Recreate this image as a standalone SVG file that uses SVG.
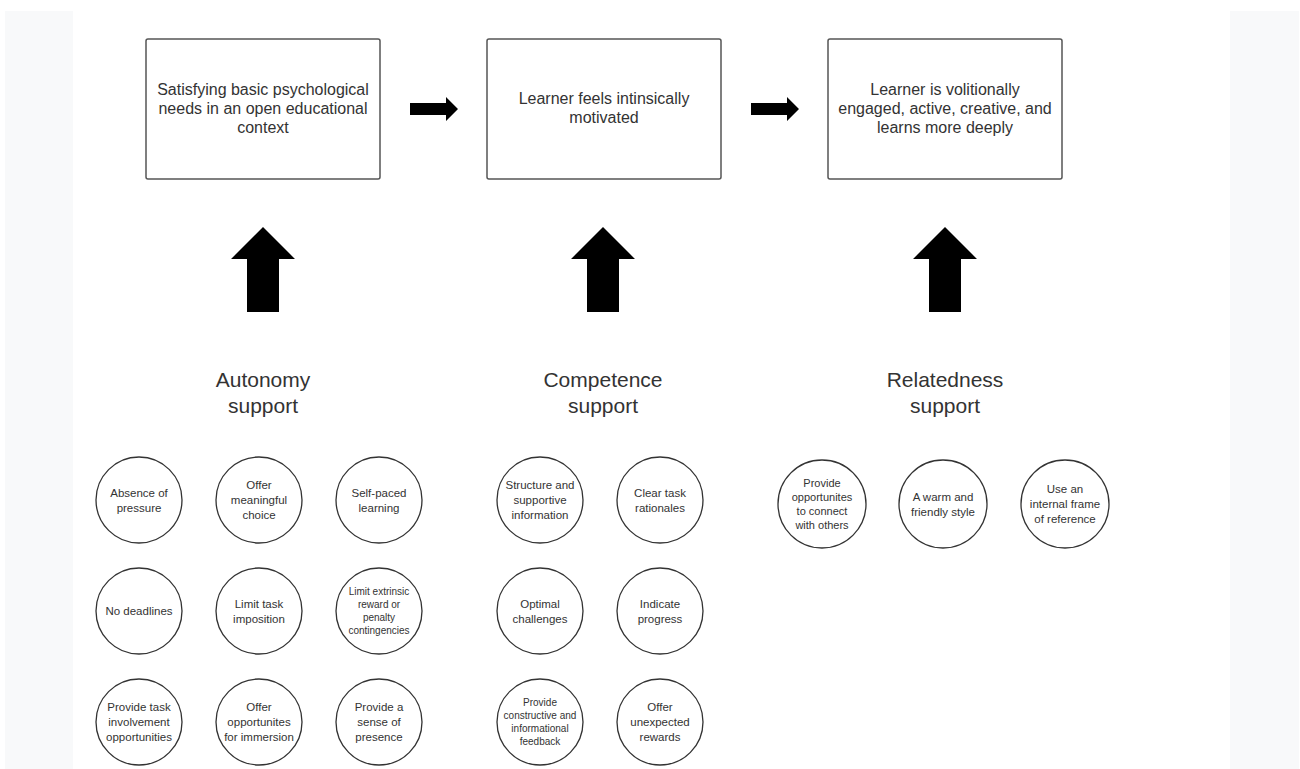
<svg xmlns="http://www.w3.org/2000/svg" width="1300" height="769" viewBox="0 0 1300 769">
<style>
.box{fill:#fff;stroke:#555;stroke-width:1.5}
.c{fill:#fff;stroke:#333;stroke-width:1.3}
.t{font-family:"Liberation Sans",Arial,sans-serif;fill:#333;text-anchor:middle}
.bt{font-size:16px}
.lt{font-size:21px}
.ct{font-size:11.5px}
.cs{font-size:10px}
.cm{font-size:11px}
.ar{fill:#000}
</style>
<rect x="0" y="0" width="1300" height="769" fill="#fff"/>
<rect x="5" y="11" width="68" height="758" fill="#f8f9fa"/>
<rect x="1230" y="11" width="69" height="758" fill="#f8f9fa"/>

<g id="box1"><rect class="box" x="146" y="39" width="234" height="140" rx="2"/>
<text class="t bt"><tspan x="263" y="95">Satisfying basic psychological</tspan><tspan x="263" y="114">needs in an open educational</tspan><tspan x="263" y="133">context</tspan></text></g>
<g id="box2"><rect class="box" x="487" y="39" width="234" height="140" rx="2"/>
<text class="t bt"><tspan x="604" y="104">Learner feels intinsically</tspan><tspan x="604" y="123">motivated</tspan></text></g>
<g id="box3"><rect class="box" x="828" y="39" width="234" height="140" rx="2"/>
<text class="t bt"><tspan x="945" y="95">Learner is volitionally</tspan><tspan x="945" y="114">engaged, active, creative, and</tspan><tspan x="945" y="133">learns more deeply</tspan></text></g>

<g id="connectors">
<path class="ar" d="M410 103 H446 V97 L458 109 L446 121 V115 H410 Z"/>
<path class="ar" d="M751 103 H787 V97 L799 109 L787 121 V115 H751 Z"/>
<path class="ar" d="M263 227 L295 259 H279 V312 H247 V259 H231 Z"/>
<path class="ar" d="M603 227 L635 259 H619 V312 H587 V259 H571 Z"/>
<path class="ar" d="M945 227 L977 259 H961 V312 H929 V259 H913 Z"/>
</g>

<g id="label-autonomy"><text class="t lt"><tspan x="263" y="387">Autonomy</tspan><tspan x="263" y="413">support</tspan></text></g>
<g id="label-competence"><text class="t lt"><tspan x="603" y="387">Competence</tspan><tspan x="603" y="413">support</tspan></text></g>
<g id="label-relatedness"><text class="t lt"><tspan x="945" y="387">Relatedness</tspan><tspan x="945" y="413">support</tspan></text></g>

<g id="a1"><circle class="c" cx="139" cy="500" r="43"/><text class="t ct"><tspan x="139" y="497">Absence of</tspan><tspan x="139" y="512">pressure</tspan></text></g>
<g id="a2"><circle class="c" cx="259" cy="500" r="43"/><text class="t ct"><tspan x="259" y="489">Offer</tspan><tspan x="259" y="504">meaningful</tspan><tspan x="259" y="519">choice</tspan></text></g>
<g id="a3"><circle class="c" cx="379" cy="500" r="43"/><text class="t ct"><tspan x="379" y="497">Self-paced</tspan><tspan x="379" y="512">learning</tspan></text></g>
<g id="a4"><circle class="c" cx="139" cy="611" r="43"/><text class="t ct"><tspan x="139" y="615">No deadlines</tspan></text></g>
<g id="a5"><circle class="c" cx="259" cy="611" r="43"/><text class="t ct"><tspan x="259" y="608">Limit task</tspan><tspan x="259" y="623">imposition</tspan></text></g>
<g id="a6"><circle class="c" cx="379" cy="611" r="43"/><text class="t cs"><tspan x="379" y="595">Limit extrinsic</tspan><tspan x="379" y="608">reward or</tspan><tspan x="379" y="621">penalty</tspan><tspan x="379" y="634">contingencies</tspan></text></g>
<g id="a7"><circle class="c" cx="139" cy="722" r="43"/><text class="t ct"><tspan x="139" y="711">Provide task</tspan><tspan x="139" y="726">involvement</tspan><tspan x="139" y="741">opportunities</tspan></text></g>
<g id="a8"><circle class="c" cx="259" cy="722" r="43"/><text class="t ct"><tspan x="259" y="711">Offer</tspan><tspan x="259" y="726">opportunites</tspan><tspan x="259" y="741">for immersion</tspan></text></g>
<g id="a9"><circle class="c" cx="379" cy="722" r="43"/><text class="t ct"><tspan x="379" y="711">Provide a</tspan><tspan x="379" y="726">sense of</tspan><tspan x="379" y="741">presence</tspan></text></g>

<g id="c1"><circle class="c" cx="540" cy="500" r="43"/><text class="t ct"><tspan x="540" y="489">Structure and</tspan><tspan x="540" y="504">supportive</tspan><tspan x="540" y="519">information</tspan></text></g>
<g id="c2"><circle class="c" cx="660" cy="500" r="43"/><text class="t ct"><tspan x="660" y="497">Clear task</tspan><tspan x="660" y="512">rationales</tspan></text></g>
<g id="c3"><circle class="c" cx="540" cy="611" r="43"/><text class="t ct"><tspan x="540" y="608">Optimal</tspan><tspan x="540" y="623">challenges</tspan></text></g>
<g id="c4"><circle class="c" cx="660" cy="611" r="43"/><text class="t ct"><tspan x="660" y="608">Indicate</tspan><tspan x="660" y="623">progress</tspan></text></g>
<g id="c5"><circle class="c" cx="540" cy="722" r="43"/><text class="t cs"><tspan x="540" y="706">Provide</tspan><tspan x="540" y="719">constructive and</tspan><tspan x="540" y="732">informational</tspan><tspan x="540" y="745">feedback</tspan></text></g>
<g id="c6"><circle class="c" cx="660" cy="722" r="43"/><text class="t ct"><tspan x="660" y="711">Offer</tspan><tspan x="660" y="726">unexpected</tspan><tspan x="660" y="741">rewards</tspan></text></g>

<g id="r1"><circle class="c" cx="822" cy="504" r="44"/><text class="t cm"><tspan x="822" y="487">Provide</tspan><tspan x="822" y="501">opportunites</tspan><tspan x="822" y="515">to connect</tspan><tspan x="822" y="529">with others</tspan></text></g>
<g id="r2"><circle class="c" cx="943" cy="504" r="44"/><text class="t ct"><tspan x="943" y="501">A warm and</tspan><tspan x="943" y="516">friendly style</tspan></text></g>
<g id="r3"><circle class="c" cx="1065" cy="504" r="44"/><text class="t ct"><tspan x="1065" y="493">Use an</tspan><tspan x="1065" y="508">internal frame</tspan><tspan x="1065" y="523">of reference</tspan></text></g>
</svg>
